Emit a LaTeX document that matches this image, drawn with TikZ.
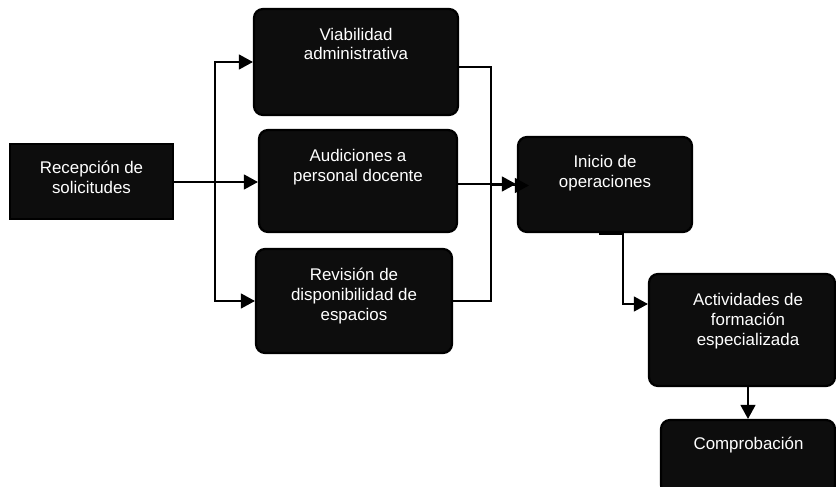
\documentclass[tikz,border=0pt]{standalone}
\usepackage{fontspec}
\setmainfont{Liberation Sans}
\usetikzlibrary{arrows.meta}
\definecolor{boxfill}{RGB}{13,13,13}
\tikzset{
  boxbase/.style={draw=black, line width=2.2pt, fill=boxfill, inner sep=0pt},
  rbox/.style={boxbase, rounded corners=9pt},
  sbox/.style={boxbase},
  lbl/.style={text=white, align=center, inner sep=0pt, anchor=base,
    font=\fontsize{16.9}{20}\selectfont},
  conn/.style={draw=black, line width=1.3pt},
  arr/.style={conn, -{Triangle[length=14pt, width=15pt]}},
}
\begin{document}
\begin{tikzpicture}[x=1pt, y=-1pt]
\useasboundingbox (0,0) rectangle (836,487);
% boxes
\node[sbox, minimum width=163pt, minimum height=75pt] (rec) at (91.5,181.5) {};
\node[rbox, minimum width=204pt, minimum height=106pt] (via) at (356,62) {};
\node[rbox, minimum width=198pt, minimum height=102pt] (aud) at (358,181) {};
\node[rbox, minimum width=196pt, minimum height=104pt] (rev) at (354,301) {};
\node[rbox, minimum width=174pt, minimum height=95pt] (ini) at (605,184.5) {};
\node[rbox, minimum width=186pt, minimum height=112pt] (act) at (742,330) {};
\node[rbox, minimum width=174pt, minimum height=74pt] (com) at (748,457) {};
% labels (anchor = baseline of the last line)
\node[lbl] (rect) at (91.5,193) {Recepción de\\solicitudes};
\node[lbl] (viat) at (356,60) {Viabilidad\\administrativa};
\node[lbl] (audt) at (358,181.5) {Audiciones a\\personal docente};
\node[lbl] (revt) at (354,320) {Revisión de\\disponibilidad de\\espacios};
\node[lbl] (init) at (605,187) {Inicio de\\operaciones};
\node[lbl] (actt) at (748,345) {Actividades de\\formación\\especializada};
\node[lbl] (comt) at (748.5,449) {Comprobación};
% connector coordinates
\coordinate (split) at (215,182);
\coordinate (vj) at (491,67);
\coordinate (hj) at (491,185.5);
\coordinate (ib) at (599,234);
\coordinate (ik) at (623,234);
\coordinate (ia) at (623,304);
% connectors
\draw[arr] (rec.east |- split) -- (split -| aud.west);
\draw[arr] (split) |- (via.west);
\draw[arr] (split) |- (rev.west);
\draw[conn] (via.east |- vj) -- (vj) -- (vj |- rev.east) -- (rev.east);
\draw[arr] (aud.east |- 0,184) -- ([xshift=-1pt]ini.west |- 0,184);
\draw[arr] (hj) -- ([xshift=12pt]ini.west |- hj);
\draw[arr] (ib) -- (ik) -- (ia) -- (ia -| act.west);
\draw[arr] (act.south -| com.north) -- (com.north);
\end{tikzpicture}
\end{document}
